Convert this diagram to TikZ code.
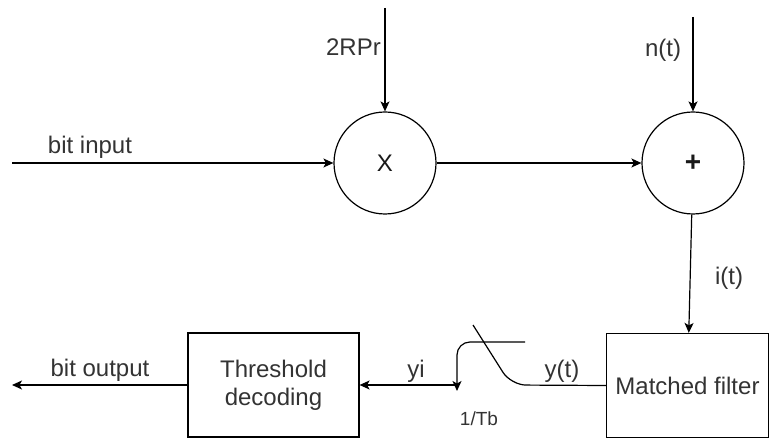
\documentclass[tikz,border=0pt]{standalone}
\usepackage{fontspec}
\setmainfont{Liberation Sans}
\usetikzlibrary{arrows.meta,positioning}

\begin{document}
\begin{tikzpicture}[x=1pt,y=-1pt]
\tikzset{
  sumnode/.style={circle,draw,line width=1.2pt,minimum size=102pt,inner sep=0pt,font=\fontsize{24}{28}\selectfont,text=black!90},
  blocknode/.style={rectangle,draw,line width=1.2pt,minimum width=171pt,minimum height=104pt,inner sep=2pt,align=center,font=\fontsize{24}{28}\selectfont,text=black!80},
  sig/.style={font=\fontsize{24}{28}\selectfont,text=black!80,inner sep=0pt},
  directed/.style={-{Stealth[length=10pt,width=9pt,inset=2.5pt]},line width=1.2pt},
  plain/.style={line width=1.2pt}
}
\useasboundingbox (0,0) rectangle (769,438);
\node[sumnode] (n_mul) at (385,163) {X};
\node[sumnode,font=\fontsize{28}{30}\selectfont\bfseries] (n_add) at (693,163) {+};
\node[blocknode] (n_thr) at (273.5,385) {Threshold\\decoding};
\node[blocknode,minimum width=162pt] (n_mf) at (687.5,385.5) {Matched filter};
\coordinate (c_in) at (12,163);
\coordinate (c_pr) at (385,8);
\coordinate (c_noise) at (693,17);
\coordinate (c_out) at (12,385);
\coordinate (c_bend) at (511,385);
\coordinate (c_swend) at (473,325);
\coordinate (c_swtop) at (525,342);
\coordinate (c_swcorner) at (457,342);
\coordinate (c_swtip) at (457,391);
\coordinate (c_sw) at (457,385);
\draw[directed] (c_in) -- (n_mul);
\draw[directed] (c_pr) -- (n_mul);
\draw[directed] (n_mul) -- (n_add);
\draw[directed] (c_noise) -- (n_add);
\draw[directed] (n_add) -- (n_mf);
\draw[plain,rounded corners=15pt] (n_mf.west) -- (c_bend) -- (c_swend);
\draw[directed,rounded corners=13pt] (c_swtop) -- (c_swcorner) -- (c_swtip);
\draw[directed] (c_sw) -- (n_thr);
\draw[directed] (n_thr) -- (c_out);
\node[sig] (l_in) at (90,147) {bit input};
\node[sig,anchor=east] (l_pr) at (381,47) {2RPr};
\node[sig] (l_noise) at (663,50) {n(t)};
\node[sig] (l_it) at (729,278) {i(t)};
\node[sig] (l_out) at (100,370) {bit output};
\node[sig] (l_yi) at (416,371) {yi};
\node[sig] (l_yt) at (562,371) {y(t)};
\node[sig,font=\fontsize{19}{22}\selectfont] (l_tb) at (479,419) {1/Tb};
\end{tikzpicture}
\end{document}
